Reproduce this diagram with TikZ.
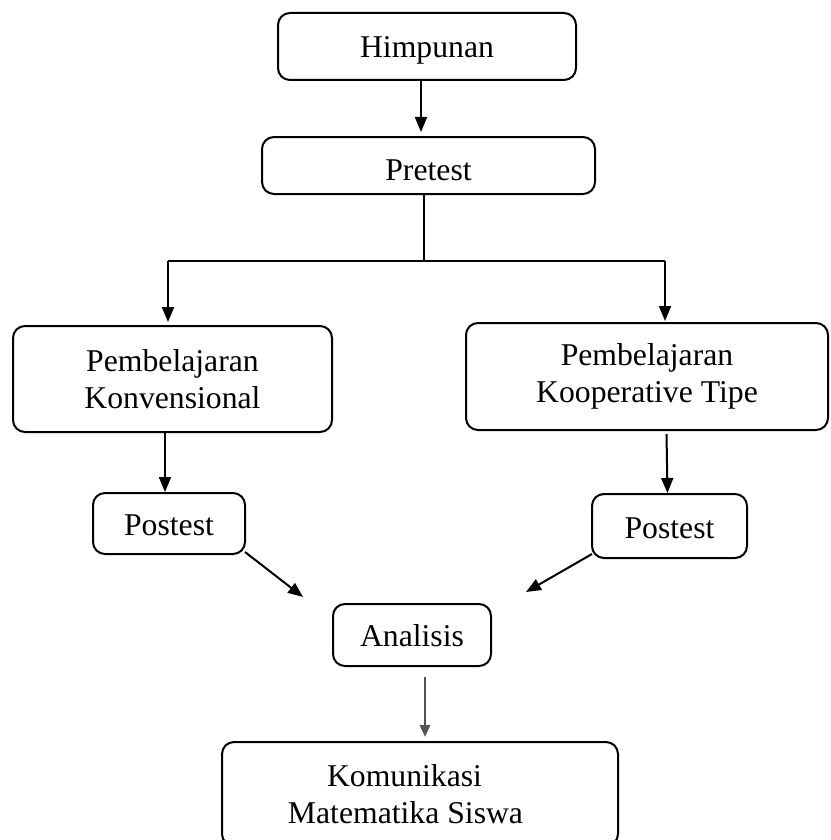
\documentclass[tikz,border=0pt]{standalone}
\usepackage{fontspec}
\setmainfont{Liberation Serif}
\usetikzlibrary{arrows.meta,calc}
\begin{document}
\begin{tikzpicture}[x=1pt,y=-1pt,
  box/.style={draw, line width=2pt, rounded corners=12pt, inner sep=0pt, align=center,
    font=\fontsize{31.7}{37}\selectfont},
  one/.style={text height=#1, text depth=0pt},
  arr/.style={line width=2pt, -{Triangle[length=15pt,width=12pt]}},
  ln/.style={line width=1.8pt}]
\useasboundingbox (0,0) rectangle (830,840);
\node[box, one=23pt, minimum width=298pt, minimum height=67pt] (him) at (427,46.5) {Himpunan};
\node[box, one=29pt, minimum width=333pt, minimum height=57pt] (pre) at (428.5,165.5) {Pretest};
\node[box, minimum width=319pt, minimum height=106pt] (pk) at (172.5,379) {Pembelajaran\\Konvensional};
\node[box, minimum width=362pt, minimum height=107pt] (pt) at (647,376.5) {Pembelajaran\\Kooperative Tipe};
\node[box, one=24pt, minimum width=152pt, minimum height=61pt] (post1) at (169,523.5) {Postest};
\node[box, one=24pt, minimum width=155pt, minimum height=64pt] (post2) at (669.5,526) {Postest};
\node[box, one=22pt, minimum width=158pt, minimum height=62pt] (ana) at (412,635) {Analisis};
\node[box, minimum width=396pt, minimum height=104pt] (kom) at (420,794) {Komunikasi\hspace*{31pt}\\Matematika Siswa\hspace*{29pt}};
\coordinate (split) at (424,261);
\coordinate (bl) at (168,261);
\coordinate (br) at (665,261);
\coordinate (a1) at (303,597);
\coordinate (a2) at (526,592);
% connectors
\draw[arr] ($(him.south)+(-6,0)$) -- ($(him.south |- pre.north)+(-6,-4)$);
\draw[ln] ($(pre.south)+(-4.5,0)$) -- (split);
\draw[ln] (bl) -- (br);
\draw[arr] (bl) -- ($(bl |- pk.north)+(0,-3)$);
\draw[arr] (br) -- ($(br |- pt.north)+(0,-1)$);
\draw[arr] ($(post1.north |- pk.south)+(-4,0)$) -- ($(post1.north)+(-4,0)$);
\draw[arr] ($(post2.north |- pt.south)+(-3,3)$) -- ($(post2.north)+(-2,0)$);
\draw[arr] ($(post1.south east)+(-1,-3)$) -- (a1);
\draw[arr] ($(post2.south west)+(1,-5)$) -- (a2);
\draw[line width=2.8pt, gray!65!black, -{Triangle[length=12pt,width=10pt]}]
  ($(ana.south -| kom.north)+(5,10)$) -- ($(kom.north)+(5,-4)$);
\end{tikzpicture}
\end{document}
